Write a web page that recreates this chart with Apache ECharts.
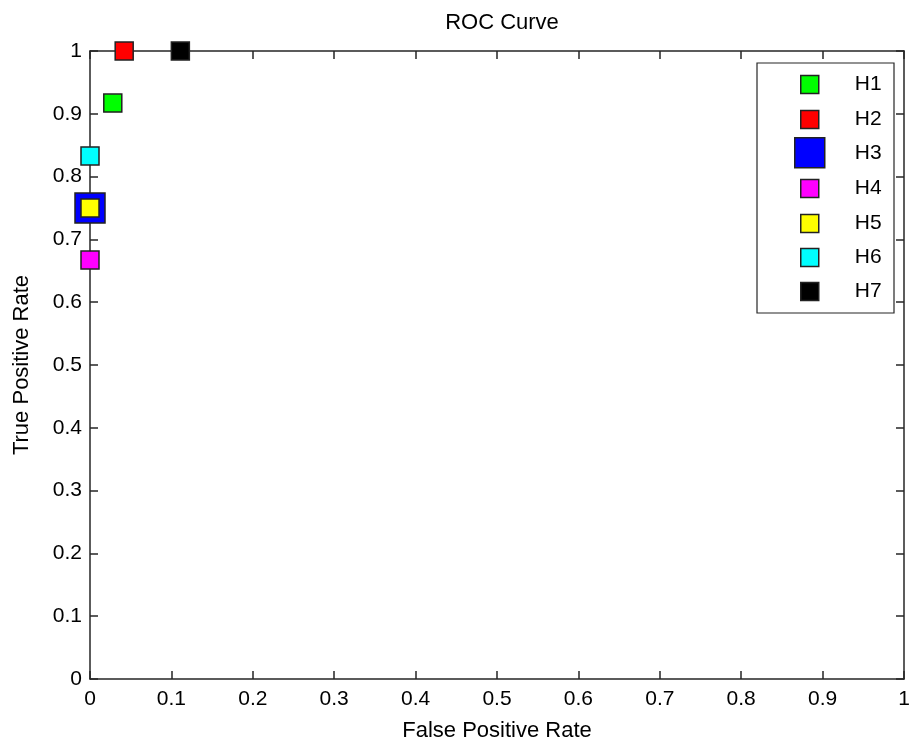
<!DOCTYPE html>
<html>
<head>
<meta charset="utf-8">
<script src="https://cdn.jsdelivr.net/npm/echarts@6/dist/echarts.min.js"></script>
<style>
  html, body { margin: 0; padding: 0; background: #fff; }
  #chart { width: 909px; height: 738px; }
</style>
</head>
<body>
<div id="chart"></div>
<script>
// 数据
var names = ["H1", "H2", "H3", "H4", "H5", "H6", "H7"];
var fpr = [0.028, 0.042, 0, 0, 0, 0, 0.111];
var tpr = [0.917, 1, 0.75, 0.667, 0.75, 0.833, 1];
var colors = ["#00ff00", "#ff0000", "#0000ff", "#ff00ff", "#ffff00", "#00ffff", "#000000"];
var sizes = [18, 18, 30, 18, 18, 18, 18];
var ticks = ["0", "0.1", "0.2", "0.3", "0.4", "0.5", "0.6", "0.7", "0.8", "0.9", "1"];

var font = "Liberation Sans, Arial, sans-serif";
var axisColor = "#262626";

var chart = echarts.init(document.getElementById("chart"));

function tickLabel(v) {
  return ticks[Math.round(v * 10)];
}

function mainAxis(pos, name, nameGap, rotate, labelMargin) {
  return {
    type: "value",
    position: pos,
    min: 0,
    max: 1,
    interval: 0.1,
    name: name,
    nameLocation: "middle",
    nameGap: nameGap,
    nameRotate: rotate,
    nameTextStyle: { color: "#000", fontSize: 22, fontFamily: font },
    axisLine: { show: true, onZero: false, lineStyle: { color: axisColor, width: 1.5 } },
    axisTick: { show: true, inside: true, length: 8, lineStyle: { color: axisColor, width: 1.5 } },
    axisLabel: { color: "#000", fontSize: 21, fontFamily: font, margin: labelMargin, formatter: tickLabel },
    splitLine: { show: false }
  };
}

function boxAxis(pos) {
  return {
    type: "value",
    position: pos,
    min: 0,
    max: 1,
    interval: 0.1,
    axisLine: { show: true, onZero: false, lineStyle: { color: axisColor, width: 1.5 } },
    axisTick: { show: true, inside: true, length: 8, lineStyle: { color: axisColor, width: 1.5 } },
    axisLabel: { show: false },
    splitLine: { show: false }
  };
}

var series = names.map(function (n, i) {
  return {
    name: n,
    type: "scatter",
    symbol: "rect",
    symbolSize: sizes[i],
    clip: false,
    z: 3 + i,
    itemStyle: { color: colors[i], borderColor: "#222", borderWidth: 1.5, opacity: 1 },
    data: [[fpr[i], tpr[i]]]
  };
});

// 每个图例单独一个，H3 的图标更大
var legendCenterY = [83, 118, 152, 187, 222, 256, 290];
var legends = names.map(function (n, i) {
  var s = sizes[i];
  return {
    data: [{ name: n, icon: "rect", itemStyle: { color: colors[i], borderColor: "#222", borderWidth: 1.5 } }],
    orient: "vertical",
    left: 809 - s / 2,
    top: legendCenterY[i] - s / 2,
    itemWidth: s,
    itemHeight: s,
    itemGap: 0,
    padding: 0,
    selectedMode: false,
    z: 11,
    textStyle: { color: "#000", fontSize: 21, fontFamily: font, padding: [0, 0, 0, 40 - s / 2] }
  };
});

chart.setOption({
  backgroundColor: "#fff",
  animation: false,
  title: {
    text: "ROC Curve",
    left: 497,
    top: 7,
    textAlign: "center",
    textStyle: { color: "#000", fontSize: 22, fontWeight: "normal", fontFamily: font }
  },
  grid: { left: 90, right: 5, top: 51, bottom: 59, containLabel: false, outerBoundsMode: "none" },
  graphic: [{
    type: "rect",
    shape: { x: 757, y: 63, width: 137, height: 250 },
    style: { fill: "#fff", stroke: axisColor, lineWidth: 1.2 },
    z: 10
  }],
  legend: legends,
  xAxis: [mainAxis("bottom", "False Positive Rate", 41, 0, 10), boxAxis("top")],
  yAxis: [mainAxis("left", "True Positive Rate", 57, 90, 8), boxAxis("right")],
  series: series
});
</script>
</body>
</html>
